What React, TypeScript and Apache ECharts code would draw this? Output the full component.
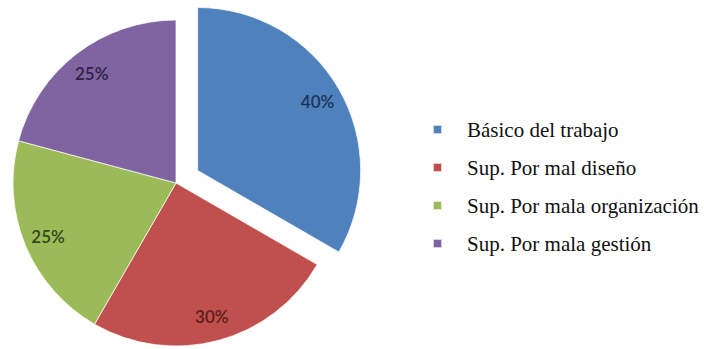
import React, { useEffect, useRef } from "react";
import * as echarts from "echarts";

const categories = [
  "Básico del trabajo",
  "Sup. Por mal diseño",
  "Sup. Por mala organización",
  "Sup. Por mala gestión",
];
const values = [40, 30, 25, 25];
const sliceColors = ["#4F81BD", "#C0504D", "#9BBB59", "#8064A2"];
const labelColors = ["#1c3557", "#5c1c1b", "#34461a", "#2f2247"];
const explodedIndex = 0;

const serif = "'Liberation Serif', 'Times New Roman', 'DejaVu Serif', serif";

export default function App() {
  const ref = useRef<HTMLDivElement>(null);
  useEffect(() => {
    if (!ref.current) return;
    const chart = echarts.init(ref.current, undefined, { renderer: "svg" });
    const mainData = categories.map((name, i) => ({
      name,
      value: values[i],
      selected: i === explodedIndex,
      itemStyle: { color: sliceColors[i] },
    }));
    const labelData = categories.map((name, i) => ({
      name,
      value: values[i],
      selected: i === explodedIndex,
      label: { color: labelColors[i] },
    }));
    chart.setOption({
      animation: false,
      backgroundColor: "#ffffff",
      legend: {
        orient: "vertical",
        left: 427,
        top: 114,
        data: categories,
        icon: "rect",
        itemWidth: 9,
        itemHeight: 9,
        itemGap: 17,
        selectedMode: false,
        textStyle: {
          fontFamily: serif,
          fontSize: 21,
          lineHeight: 21,
          color: "#111111",
          padding: [0, 0, 0, 20],
        },
      },
      series: [
        {
          type: "pie",
          center: [176, 183],
          radius: [0, 163],
          startAngle: 90,
          clockwise: true,
          selectedMode: "single",
          selectedOffset: 25,
          silent: true,
          label: { show: false },
          labelLine: { show: false },
          itemStyle: { borderColor: "rgba(255,255,255,0.7)", borderWidth: 1 },
          emphasis: { disabled: true },
          data: mainData,
        },
        {
          type: "pie",
          center: [176, 183],
          radius: [108, 163],
          startAngle: 90,
          clockwise: true,
          selectedMode: "single",
          selectedOffset: 25,
          silent: true,
          itemStyle: { color: "rgba(0,0,0,0)" },
          label: {
            show: true,
            position: "inside",
            formatter: "{c}%",
            fontFamily: "Lato",
            fontSize: 17,
            fontWeight: 600,
          },
          labelLine: { show: false },
          emphasis: { disabled: true },
          data: labelData,
        },
      ],
    });
    return () => chart.dispose();
  }, []);
  return (
    <div
      ref={ref}
      style={{ position: "fixed", left: 0, top: 0, width: 704, height: 349 }}
    />
  );
}
